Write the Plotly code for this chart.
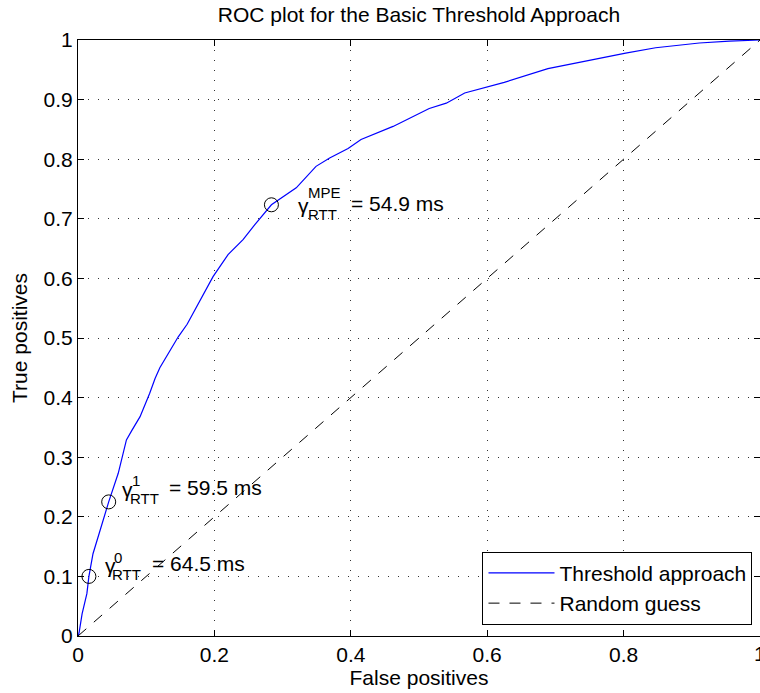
import plotly.graph_objects as go

# ---- data ----
fpr = [0, 0.0015, 0.006, 0.013, 0.016, 0.022, 0.031, 0.042, 0.045, 0.059, 0.071, 0.079,
       0.091, 0.105, 0.113, 0.120, 0.147, 0.160, 0.179, 0.198, 0.220, 0.242, 0.259, 0.2836,
       0.320, 0.349, 0.369, 0.396, 0.415, 0.462, 0.515, 0.540, 0.567, 0.601, 0.625, 0.689,
       0.735, 0.803, 0.847, 0.911, 0.955, 1.0]
tpr = [0, 0.005, 0.037, 0.071, 0.100, 0.138, 0.172, 0.216, 0.225, 0.273, 0.329, 0.345,
       0.368, 0.407, 0.432, 0.450, 0.502, 0.523, 0.564, 0.603, 0.640, 0.665, 0.690, 0.7235,
       0.752, 0.788, 0.802, 0.818, 0.833, 0.855, 0.885, 0.894, 0.911, 0.922, 0.929, 0.952,
       0.963, 0.978, 0.987, 0.995, 0.998, 1.0]
random_x = [0, 1]
random_y = [0, 1]

mark_x = [0.016, 0.045, 0.2836]
mark_y = [0.100, 0.225, 0.7235]
mark_sup = ["0", "1", "MPE"]
mark_val = ["64.5 ms", "59.5 ms", "54.9 ms"]

x_ticks = [0, 0.2, 0.4, 0.6, 0.8, 1]
x_ticklabels = ["0", "0.2", "0.4", "0.6", "0.8", "1"]
y_ticks = [0, 0.1, 0.2, 0.3, 0.4, 0.5, 0.6, 0.7, 0.8, 0.9, 1]
y_ticklabels = ["0", "0.1", "0.2", "0.3", "0.4", "0.5", "0.6", "0.7", "0.8", "0.9", "1"]

FONT = "Liberation Sans, Arial, Helvetica, sans-serif"
FS = 21
SFS = 15

fig = go.Figure()
fig.add_trace(go.Scatter(x=fpr, y=tpr, mode="lines", name="Threshold approach",
                         line=dict(color="#0000ff", width=1.2)))
fig.add_trace(go.Scatter(x=random_x, y=random_y, mode="lines", name="Random guess",
                         line=dict(color="black", width=1, dash="11px,10px")))
fig.add_trace(go.Scatter(x=mark_x, y=mark_y, mode="markers", showlegend=False,
                         marker=dict(symbol="circle-open", size=14,
                                     color="black", line=dict(width=1, color="black"))))

# label offsets in pixels: (gamma dx, sup/sub dx, "=" dx, yshift, sup raise)
offs = [(14, 23, 61, 12.5, 6), (11, 21, 58, 14.5, 7), (25, 35, 78, 1.5, 10.5)]
for i in range(3):
    gdx, sdx, edx, ys, sr = offs[i]
    common = dict(x=mark_x[i], y=mark_y[i], xref="x", yref="y", showarrow=False,
                  xanchor="left", yanchor="middle")
    fig.add_annotation(text="γ", xshift=gdx, yshift=ys - 2,
                       font=dict(family=FONT, size=FS, color="black"), **common)
    fig.add_annotation(text=mark_sup[i], xshift=sdx, yshift=ys + sr,
                       font=dict(family=FONT, size=SFS, color="black"), **common)
    fig.add_annotation(text="RTT", xshift=sdx - 2 if i < 2 else sdx, yshift=ys - 11,
                       font=dict(family=FONT, size=SFS, color="black"), **common)
    fig.add_annotation(text="= " + mark_val[i], xshift=edx, yshift=ys,
                       font=dict(family=FONT, size=FS, color="black"), **common)

# last x tick label sits on the page edge and is cut off, as in the reference
fig.add_annotation(text=x_ticklabels[-1], x=x_ticks[-1], xref="x", y=0, yref="paper",
                   yanchor="top", xanchor="center", yshift=-4, showarrow=False,
                   font=dict(family=FONT, size=FS, color="black"))

axis_common = dict(
    showline=True, linecolor="black", linewidth=1, mirror="ticks",
    ticks="inside", ticklen=6, tickcolor="black", tickwidth=1,
    showgrid=True, gridcolor="#333333", gridwidth=1, griddash="1px,9px",
    zeroline=False, automargin=False,
    tickfont=dict(family=FONT, size=FS, color="black"),
)
fig.update_xaxes(range=[0, 1], tickvals=x_ticks, ticktext=x_ticklabels[:-1] + [""],
                 title=dict(text="False positives", font=dict(family=FONT, size=FS, color="black"),
                            standoff=4),
                 **axis_common)
fig.update_yaxes(range=[0, 1], tickvals=y_ticks, ticktext=y_ticklabels,
                 title=dict(text="True positives", font=dict(family=FONT, size=FS, color="black"),
                            standoff=10),
                 **axis_common)

fig.update_layout(
    width=760, height=693,
    margin=dict(l=78, r=0, t=40, b=57),
    plot_bgcolor="white", paper_bgcolor="white",
    title=dict(text="ROC plot for the Basic Threshold Approach",
               font=dict(family=FONT, size=FS, color="black"),
               x=0.5, xref="paper", y=1 - 15 / 693, yanchor="middle"),
    legend=dict(x=0.989, y=0.019, xanchor="right", yanchor="bottom",
                bgcolor="white", bordercolor="black", borderwidth=1,
                font=dict(family=FONT, size=FS, color="black"),
                itemwidth=66, tracegroupgap=0),
    showlegend=True,
)

fig.write_html("out.html")
